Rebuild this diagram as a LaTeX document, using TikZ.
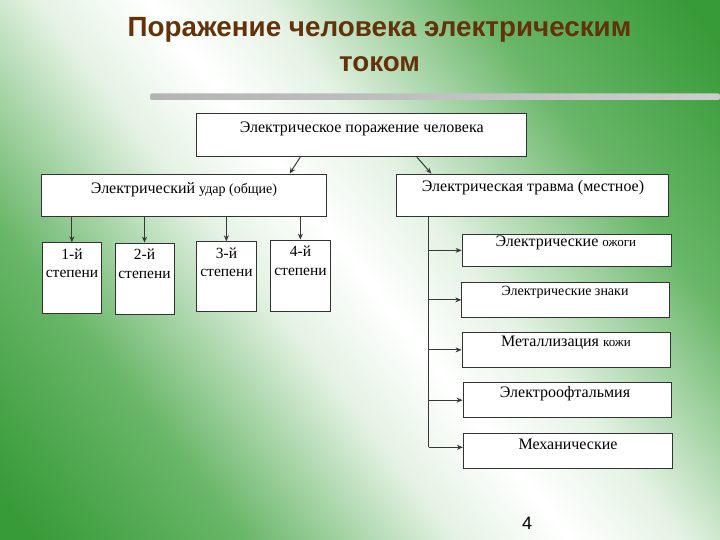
\documentclass[tikz,border=0pt]{standalone}
\usepackage{fontspec}
\setmainfont{Liberation Serif}
\newfontfamily\titlefont{Liberation Sans}
\usetikzlibrary{arrows.meta}
\definecolor{bgG}{RGB}{55,155,55}
\definecolor{bgM}{RGB}{105,182,105}
\definecolor{bgL}{RGB}{228,242,228}
\definecolor{ttl}{RGB}{100,50,10}
\definecolor{ln}{RGB}{55,55,55}
\definecolor{barL}{RGB}{180,180,180}
\definecolor{barR}{RGB}{205,205,205}
\pgfdeclareverticalshading{bgshade}{100bp}{color(0bp)=(bgG); color(17bp)=(bgG); color(30bp)=(bgM); color(43bp)=(bgL); color(50bp)=(white); color(57bp)=(bgL); color(70bp)=(bgM); color(83bp)=(bgG); color(100bp)=(bgG)}
\begin{document}
\begin{tikzpicture}[x=1pt,y=-1pt,
 box/.style={draw=black!80, fill=white, line width=0.8pt, inner sep=0pt},
 lbl/.style={font=\fontsize{16}{18.5}\selectfont, inner sep=0pt, align=center},
 deg/.style={font=\fontsize{15.5}{18.5}\selectfont, inner sep=0pt, align=center},
 arr/.style={draw=ln, line width=1pt, -{Stealth[length=6pt,width=5pt]}},
 trunkline/.style={draw=ln, line width=1pt}]
\useasboundingbox (0,0) rectangle (720,540);
\shade[shading=bgshade, shading angle=-52] (0,0) rectangle (720,540);
% title
\node[font=\titlefont\bfseries\fontsize{27.8}{35}\selectfont, text=ttl, align=center, inner sep=0pt] (title) at (379.5,44.5) {Поражение человека электрическим\\током};
\shade[left color=barL, right color=barR, rounded corners=2pt] (150,93.5) rectangle (720,100);
% boxes
\node[box, minimum width=330.7pt, minimum height=43.4pt] (top) at (361.35,135) {};
\node[box, minimum width=284.3pt, minimum height=42.7pt] (shock) at (183.85,195.35) {};
\node[box, minimum width=272pt, minimum height=42.7pt] (trauma) at (532.7,195.35) {};
\node[box, minimum width=58.3pt, minimum height=70.3pt] (d1) at (71.85,277.85) {};
\node[box, minimum width=59pt, minimum height=71pt] (d2) at (144.5,278.5) {};
\node[box, minimum width=59.3pt, minimum height=69.3pt] (d3) at (226.35,276.35) {};
\node[box, minimum width=59.3pt, minimum height=71pt] (d4) at (300.35,275.5) {};
\node[box, minimum width=209pt, minimum height=32.7pt] (b1) at (566.5,250.35) {};
\node[box, minimum width=207.3pt, minimum height=34.3pt] (b2) at (565.35,299.85) {};
\node[box, minimum width=208.7pt, minimum height=34.3pt] (b3) at (566.35,349.85) {};
\node[box, minimum width=208.7pt, minimum height=35pt] (b4) at (567.35,400.2) {};
\node[box, minimum width=209pt, minimum height=35pt] (b5) at (567.8,450.8) {};
% texts
\node[lbl] (ttop) at (361.7,128.5) {Электрическое поражение человека};
\node[lbl] (tshock) at (184,189.3) {Электрический {\fontsize{14}{16}\selectfont удар (общие)}};
\node[lbl] (ttrauma) at (533,188) {Электрическая травма (местное)};
\node[deg] (td1) at (72,263.4) {1-й\\степени};
\node[deg] (td2) at (144.5,264) {2-й\\степени};
\node[deg] (td3) at (226.5,262.5) {3-й\\степени};
\node[deg] (td4) at (300.5,261) {4-й\\степени};
\node[lbl] (tb1) at (565.8,242.5) {Электрические {\fontsize{13}{15}\selectfont ожоги}};
\node[lbl, font=\fontsize{14}{16}\selectfont] (tb2) at (565,292.5) {Электрические знаки};
\node[lbl] (tb3) at (566,343.2) {Металлизация {\fontsize{13}{15}\selectfont кожи}};
\node[lbl] (tb4) at (565,393.8) {Электроофтальмия};
\node[lbl] (tb5) at (568,444.8) {Механические};
\node[font=\titlefont\fontsize{18}{20}\selectfont, inner sep=0pt] (pnum) at (527,523) {4};
% connectors
\draw[arr] ([xshift=104.7pt]top.south west) -- ([xshift=248.3pt]shock.north west);
\draw[arr] ([xshift=221.3pt]top.south west) -- ([xshift=35pt]trauma.north west);
\foreach \d in {d1,d2,d3,d4} \draw[arr] (\d.north |- shock.south) -- (\d.north);
\coordinate (trunk) at ([xshift=32.3pt]trauma.south west);
\coordinate (b5w) at ([yshift=3.5pt]b5.west);
\draw[trunkline] (trunk) -- (trunk |- b5w);
\foreach \b in {b1,b2,b3,b4} \draw[arr] (trunk |- \b.west) -- (\b.west);
\draw[arr] (trunk |- b5w) -- (b5w);
\end{tikzpicture}
\end{document}
